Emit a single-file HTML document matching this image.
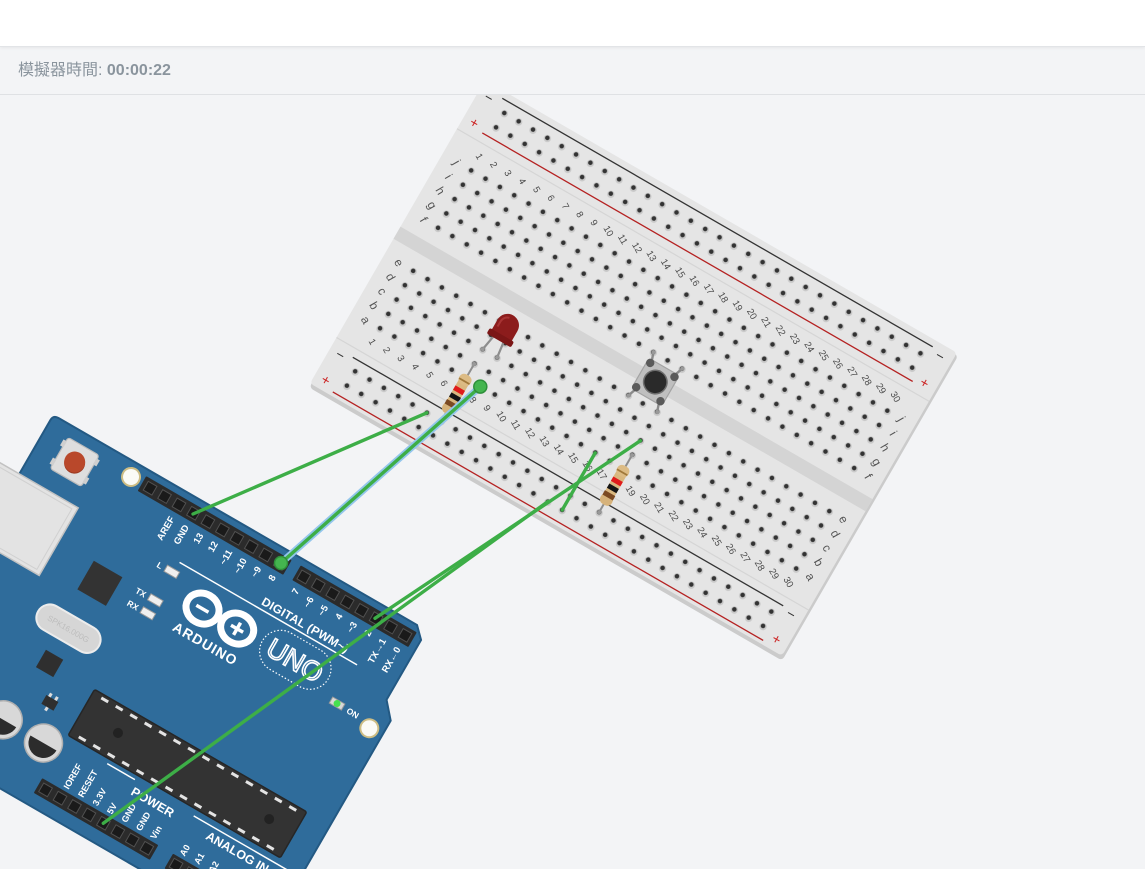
<!DOCTYPE html>
<html><head><meta charset="utf-8">
<style>
html,body{margin:0;padding:0;width:1145px;height:869px;overflow:hidden;background:#f3f4f6;font-family:"Liberation Sans","Noto Sans CJK TC",sans-serif;}
#wrap{position:relative;width:1145px;height:869px;overflow:hidden}
#top{position:absolute;left:0;top:0;width:1145px;height:46px;background:#fff;border-bottom:1px solid #e2e4e7;box-shadow:0 1px 3px rgba(0,0,0,0.06);z-index:3}
#bar{position:absolute;left:0;top:47px;width:1145px;height:47px;background:#f3f4f6;border-bottom:1px solid #dfe1e4;z-index:2}
#bar span{position:absolute;left:18px;top:13px;font-size:16px;color:#8a949d;line-height:22px;white-space:nowrap}
#bar b{font-weight:bold}
svg{position:absolute;left:0;top:0;z-index:1;display:block;overflow:hidden}
.n text{font-family:"Liberation Sans",sans-serif;font-size:9.5px;fill:#4a4a4a;text-anchor:middle}
.l text{font-family:"Liberation Sans",sans-serif;font-size:12px;fill:#555;text-anchor:middle}
.w text{font-family:"Liberation Sans",sans-serif;fill:#fff;font-weight:bold}
</style></head>
<body>
<div id="wrap">
<div id="top"></div>
<div id="bar"><span>模擬器時間: <b>00:00:22</b></span></div>
<svg width="1145" height="869" viewBox="0 0 1145 869">
<defs>
<pattern id="h" patternUnits="userSpaceOnUse" x="24.815" y="8.435" width="16.57" height="16.57">
<circle cx="8.6" cy="8.8" r="3.7" fill="#c9c9c9"/>
<circle cx="8.285" cy="8.285" r="2.3" fill="#333"/>
</pattern>
<clipPath id="scr"><rect x="0" y="0" width="1145" height="869"/></clipPath>
</defs>
<g clip-path="url(#scr)">
<!-- BREADBOARD -->
<g transform="translate(484,82) rotate(30)">
<rect x="1.5" y="0" width="546" height="352" rx="4" fill="#cbcbcb"/>
<rect x="0" y="-2" width="545" height="350" rx="4" fill="#e5e5e5"/>
<line x1="0" y1="54" x2="545" y2="54" stroke="#d5d5d5" stroke-width="1.2"/>
<line x1="0" y1="295" x2="545" y2="295" stroke="#d5d5d5" stroke-width="1.2"/>
<rect x="0" y="167" width="545" height="14" fill="#d4d4d4"/>
<rect x="24.815" y="8.435" width="497.1" height="33.14" fill="url(#h)"/>
<rect x="24.815" y="74.715" width="497.1" height="82.85" fill="url(#h)"/>
<rect x="24.815" y="190.705" width="497.1" height="82.85" fill="url(#h)"/>
<rect x="24.815" y="306.695" width="497.1" height="33.14" fill="url(#h)"/>
<line x1="24" y1="5" x2="521" y2="5" stroke="#333" stroke-width="1.3"/>
<line x1="24" y1="45" x2="521" y2="45" stroke="#b52222" stroke-width="1.3"/>
<line x1="24" y1="304" x2="521" y2="304" stroke="#333" stroke-width="1.3"/>
<line x1="24" y1="344" x2="521" y2="344" stroke="#b52222" stroke-width="1.3"/>
<g font-family="Liberation Sans, sans-serif" font-size="14" text-anchor="middle">
<text x="12" y="16" fill="#333">−</text>
<text x="12" y="45" fill="#c22">+</text>
<text x="12" y="313" fill="#333">−</text>
<text x="12" y="342" fill="#c22">+</text>
<text x="532" y="14" fill="#333">−</text>
<text x="532" y="45" fill="#c22">+</text>
<text x="532" y="312" fill="#333">−</text>
<text x="532" y="341" fill="#c22">+</text>
</g>
<g class="n">
<text x="33.1" y="70" transform="rotate(30 33.1 67)">1</text>
<text x="49.67" y="70" transform="rotate(30 49.67 67)">2</text>
<text x="66.24" y="70" transform="rotate(30 66.24 67)">3</text>
<text x="82.81" y="70" transform="rotate(30 82.81 67)">4</text>
<text x="99.38" y="70" transform="rotate(30 99.38 67)">5</text>
<text x="115.95" y="70" transform="rotate(30 115.95 67)">6</text>
<text x="132.52" y="70" transform="rotate(30 132.52 67)">7</text>
<text x="149.09" y="70" transform="rotate(30 149.09 67)">8</text>
<text x="165.66" y="70" transform="rotate(30 165.66 67)">9</text>
<text x="182.23" y="70" transform="rotate(30 182.23 67)">10</text>
<text x="198.8" y="70" transform="rotate(30 198.8 67)">11</text>
<text x="215.37" y="70" transform="rotate(30 215.37 67)">12</text>
<text x="231.94" y="70" transform="rotate(30 231.94 67)">13</text>
<text x="248.51" y="70" transform="rotate(30 248.51 67)">14</text>
<text x="265.08" y="70" transform="rotate(30 265.08 67)">15</text>
<text x="281.65" y="70" transform="rotate(30 281.65 67)">16</text>
<text x="298.22" y="70" transform="rotate(30 298.22 67)">17</text>
<text x="314.79" y="70" transform="rotate(30 314.79 67)">18</text>
<text x="331.36" y="70" transform="rotate(30 331.36 67)">19</text>
<text x="347.93" y="70" transform="rotate(30 347.93 67)">20</text>
<text x="364.5" y="70" transform="rotate(30 364.5 67)">21</text>
<text x="381.07" y="70" transform="rotate(30 381.07 67)">22</text>
<text x="397.64" y="70" transform="rotate(30 397.64 67)">23</text>
<text x="414.21" y="70" transform="rotate(30 414.21 67)">24</text>
<text x="430.78" y="70" transform="rotate(30 430.78 67)">25</text>
<text x="447.35" y="70" transform="rotate(30 447.35 67)">26</text>
<text x="463.92" y="70" transform="rotate(30 463.92 67)">27</text>
<text x="480.49" y="70" transform="rotate(30 480.49 67)">28</text>
<text x="497.06" y="70" transform="rotate(30 497.06 67)">29</text>
<text x="513.63" y="70" transform="rotate(30 513.63 67)">30</text>
<text x="33.1" y="284" transform="rotate(30 33.1 281)">1</text>
<text x="49.67" y="284" transform="rotate(30 49.67 281)">2</text>
<text x="66.24" y="284" transform="rotate(30 66.24 281)">3</text>
<text x="82.81" y="284" transform="rotate(30 82.81 281)">4</text>
<text x="99.38" y="284" transform="rotate(30 99.38 281)">5</text>
<text x="115.95" y="284" transform="rotate(30 115.95 281)">6</text>
<text x="132.52" y="284" transform="rotate(30 132.52 281)">7</text>
<text x="149.09" y="284" transform="rotate(30 149.09 281)">8</text>
<text x="165.66" y="284" transform="rotate(30 165.66 281)">9</text>
<text x="182.23" y="284" transform="rotate(30 182.23 281)">10</text>
<text x="198.8" y="284" transform="rotate(30 198.8 281)">11</text>
<text x="215.37" y="284" transform="rotate(30 215.37 281)">12</text>
<text x="231.94" y="284" transform="rotate(30 231.94 281)">13</text>
<text x="248.51" y="284" transform="rotate(30 248.51 281)">14</text>
<text x="265.08" y="284" transform="rotate(30 265.08 281)">15</text>
<text x="281.65" y="284" transform="rotate(30 281.65 281)">16</text>
<text x="298.22" y="284" transform="rotate(30 298.22 281)">17</text>
<text x="314.79" y="284" transform="rotate(30 314.79 281)">18</text>
<text x="331.36" y="284" transform="rotate(30 331.36 281)">19</text>
<text x="347.93" y="284" transform="rotate(30 347.93 281)">20</text>
<text x="364.5" y="284" transform="rotate(30 364.5 281)">21</text>
<text x="381.07" y="284" transform="rotate(30 381.07 281)">22</text>
<text x="397.64" y="284" transform="rotate(30 397.64 281)">23</text>
<text x="414.21" y="284" transform="rotate(30 414.21 281)">24</text>
<text x="430.78" y="284" transform="rotate(30 430.78 281)">25</text>
<text x="447.35" y="284" transform="rotate(30 447.35 281)">26</text>
<text x="463.92" y="284" transform="rotate(30 463.92 281)">27</text>
<text x="480.49" y="284" transform="rotate(30 480.49 281)">28</text>
<text x="497.06" y="284" transform="rotate(30 497.06 281)">29</text>
<text x="513.63" y="284" transform="rotate(30 513.63 281)">30</text>
</g>
<g class="l">
<text x="16.5" y="87" transform="rotate(30 16.5 83)">j</text>
<text x="16.5" y="103.6" transform="rotate(30 16.5 99.6)">i</text>
<text x="16.5" y="120.1" transform="rotate(30 16.5 116.1)">h</text>
<text x="16.5" y="136.7" transform="rotate(30 16.5 132.7)">g</text>
<text x="16.5" y="153.3" transform="rotate(30 16.5 149.3)">f</text>
<text x="16.5" y="203" transform="rotate(30 16.5 199)">e</text>
<text x="16.5" y="219.6" transform="rotate(30 16.5 215.6)">d</text>
<text x="16.5" y="236.1" transform="rotate(30 16.5 232.1)">c</text>
<text x="16.5" y="252.7" transform="rotate(30 16.5 248.7)">b</text>
<text x="16.5" y="269.3" transform="rotate(30 16.5 265.3)">a</text>
<text x="530" y="87" transform="rotate(30 530 83)">j</text>
<text x="530" y="103.6" transform="rotate(30 530 99.6)">i</text>
<text x="530" y="120.1" transform="rotate(30 530 116.1)">h</text>
<text x="530" y="136.7" transform="rotate(30 530 132.7)">g</text>
<text x="530" y="153.3" transform="rotate(30 530 149.3)">f</text>
<text x="530" y="203" transform="rotate(30 530 199)">e</text>
<text x="530" y="219.6" transform="rotate(30 530 215.6)">d</text>
<text x="530" y="236.1" transform="rotate(30 530 232.1)">c</text>
<text x="530" y="252.7" transform="rotate(30 530 248.7)">b</text>
<text x="530" y="269.3" transform="rotate(30 530 265.3)">a</text>
</g>

<!-- LED -->
<g stroke="#8d8d8d" stroke-width="2.2" stroke-linecap="round">
<line x1="135.5" y1="215" x2="132.5" y2="232.1"/>
<line x1="147" y1="215" x2="149.1" y2="232.1"/>
</g>
<circle cx="132.5" cy="232.1" r="2" fill="#9a9a9a"/>
<circle cx="149.1" cy="232.1" r="2" fill="#9a9a9a"/>
<path d="M130.5,213 L130.5,199 A11.5,11.5 0 0 1 153.5,199 L153.5,213 Z" fill="#8c1c1c"/>
<path d="M134,205 L134,199 A8,8 0 0 1 140,191.5" fill="none" stroke="#a83434" stroke-width="2"/>
<rect x="128" y="210" width="28" height="6.5" rx="2" fill="#7b1616"/>

<!-- Resistor 1 (col 7) -->
<g>
<line x1="132.5" y1="249" x2="132.5" y2="315" stroke="#8d8d8d" stroke-width="2"/>
<circle cx="132.5" cy="249" r="2" fill="#999"/>
<circle cx="132.5" cy="315" r="2" fill="#999"/>
<rect x="127" y="262" width="11" height="44" rx="5" fill="#d9b77f"/>
<rect x="126" y="262" width="13" height="11" rx="5" fill="#dcbb84"/>
<rect x="126" y="295" width="13" height="11" rx="5" fill="#d6b27a"/>
<rect x="126.5" y="268" width="12" height="1.8" fill="#a0783a"/>
<rect x="127" y="277" width="11" height="5" fill="#e01b1b"/>
<rect x="127" y="285" width="11" height="5" fill="#151515"/>
<rect x="126.5" y="293" width="12" height="5" fill="#7b4a22"/>
</g>
<!-- Resistor 2 (col 18) -->
<g>
<line x1="314.8" y1="249" x2="314.8" y2="315" stroke="#8d8d8d" stroke-width="2"/>
<circle cx="314.8" cy="249" r="2" fill="#999"/>
<circle cx="314.8" cy="315" r="2" fill="#999"/>
<rect x="309.3" y="262" width="11" height="44" rx="5" fill="#d9b77f"/>
<rect x="308.3" y="262" width="13" height="11" rx="5" fill="#dcbb84"/>
<rect x="308.3" y="295" width="13" height="11" rx="5" fill="#d6b27a"/>
<rect x="308.8" y="268" width="12" height="1.8" fill="#a0783a"/>
<rect x="309.3" y="277" width="11" height="5" fill="#e01b1b"/>
<rect x="309.3" y="285" width="11" height="5" fill="#151515"/>
<rect x="308.8" y="293" width="12" height="5" fill="#7b4a22"/>
</g>

<!-- Pushbutton -->
<g transform="translate(298.4,174.2)">
<g stroke="#8a8a8a" stroke-width="2.4" stroke-linecap="round">
<line x1="-12" y1="-12" x2="-16.6" y2="-25"/>
<line x1="12" y1="-12" x2="16.6" y2="-25"/>
<line x1="-12" y1="12" x2="-16.6" y2="25"/>
<line x1="12" y1="12" x2="16.6" y2="25"/>
</g>
<circle cx="-16.6" cy="-25" r="2" fill="#999"/>
<circle cx="16.6" cy="-25" r="2" fill="#999"/>
<circle cx="-16.6" cy="25" r="2" fill="#999"/>
<circle cx="16.6" cy="25" r="2" fill="#999"/>
<rect x="-17.5" y="-17.5" width="35" height="35" rx="3" fill="#bfbfbf" stroke="#a3a3a3" stroke-width="1.2"/>
<circle cx="-14" cy="-14" r="4.2" fill="#5a5a5a"/>
<circle cx="14" cy="-14" r="4.2" fill="#5a5a5a"/>
<circle cx="-14" cy="14" r="4.2" fill="#5a5a5a"/>
<circle cx="14" cy="14" r="4.2" fill="#5a5a5a"/>
<circle cx="0" cy="0" r="12.5" fill="#6e6e6e"/>
<circle cx="0" cy="0" r="11" fill="#2a2a2a"/>
</g>
</g>

<!-- ARDUINO -->
<g transform="translate(53.3,415) rotate(30)">
<path d="M0,6 Q0,0 6,0 L420,0 L431,11 L431,80 L445,96 L445,350 L0,350 Z" fill="#2f6c9b" stroke="#235983" stroke-width="2"/>
<!-- USB -->
<rect x="-55" y="68" width="123" height="78" fill="#e3e3e3" stroke="#c2c2c2" stroke-width="1.5"/>
<rect x="-55" y="72" width="118" height="70" fill="none" stroke="#d0d0d0" stroke-width="1"/>
<!-- reset button -->
<g transform="translate(42,30)">
<rect x="-18" y="-18" width="36" height="36" rx="3" fill="#dedede" stroke="#bcbcbc" stroke-width="1.2"/>
<rect x="-21" y="-14" width="4" height="7" fill="#cfcfcf"/>
<rect x="17" y="-14" width="4" height="7" fill="#cfcfcf"/>
<rect x="-21" y="7" width="4" height="7" fill="#cfcfcf"/>
<rect x="17" y="7" width="4" height="7" fill="#cfcfcf"/>
<circle cx="0.5" cy="1" r="10.5" fill="#9b3a22"/>
<circle cx="0" cy="0" r="10.5" fill="#b9482b"/>
</g>
<!-- mount holes -->
<circle cx="98.3" cy="14.8" r="10" fill="#cdbd84"/>
<circle cx="98.3" cy="14.8" r="8" fill="#fbfbf6"/>
<circle cx="430.3" cy="113.3" r="10" fill="#cdbd84"/>
<circle cx="430.3" cy="113.3" r="8" fill="#fbfbf6"/>
<!-- headers -->
<rect x="111" y="6.5" width="168" height="17" rx="1" fill="#2b2b2b"/>
<rect x="289.5" y="6.5" width="134" height="17" rx="1" fill="#2b2b2b"/>
<rect x="172" y="320" width="134" height="17" rx="1" fill="#2b2b2b"/>
<rect x="323" y="320" width="100" height="17" rx="1" fill="#2b2b2b"/>
<g fill="#1a1a1a" stroke="#505050" stroke-width="1">
<rect x="115.4" y="10" width="10" height="10"/><rect x="132.1" y="10" width="10" height="10"/><rect x="148.8" y="10" width="10" height="10"/><rect x="165.5" y="10" width="10" height="10"/><rect x="182.2" y="10" width="10" height="10"/><rect x="198.9" y="10" width="10" height="10"/><rect x="215.6" y="10" width="10" height="10"/><rect x="232.3" y="10" width="10" height="10"/><rect x="249" y="10" width="10" height="10"/><rect x="265.7" y="10" width="10" height="10"/>
<rect x="292.9" y="10" width="10" height="10"/><rect x="309.6" y="10" width="10" height="10"/><rect x="326.3" y="10" width="10" height="10"/><rect x="343" y="10" width="10" height="10"/><rect x="359.7" y="10" width="10" height="10"/><rect x="376.4" y="10" width="10" height="10"/><rect x="393.1" y="10" width="10" height="10"/><rect x="409.8" y="10" width="10" height="10"/>
<rect x="175.7" y="323.5" width="10" height="10"/><rect x="192.4" y="323.5" width="10" height="10"/><rect x="209.1" y="323.5" width="10" height="10"/><rect x="225.8" y="323.5" width="10" height="10"/><rect x="242.5" y="323.5" width="10" height="10"/><rect x="259.2" y="323.5" width="10" height="10"/><rect x="275.9" y="323.5" width="10" height="10"/><rect x="292.6" y="323.5" width="10" height="10"/>
<rect x="326.4" y="323.5" width="10" height="10"/><rect x="343.1" y="323.5" width="10" height="10"/><rect x="359.8" y="323.5" width="10" height="10"/>
</g>
<!-- chips -->
<rect x="108" y="106" width="33" height="33" fill="#333"/>
<rect x="85" y="164" width="70" height="27" rx="13.5" fill="#d6d6d6" stroke="#ececec" stroke-width="2"/>
<text x="120" y="180.5" font-family="Liberation Sans, sans-serif" font-size="8" fill="#bdbdbd" text-anchor="middle">SPK16.000G</text>
<rect x="111" y="207" width="20" height="20" fill="#2f2f2f"/>
<rect x="134" y="246" width="14" height="10" fill="#2f2f2f"/>
<rect x="136" y="242" width="3" height="4" fill="#ddd"/><rect x="143" y="242" width="3" height="4" fill="#ddd"/><rect x="139.5" y="256" width="3" height="4" fill="#ddd"/>
<!-- capacitors -->
<circle cx="109" cy="289" r="19" fill="#d8d8d8" stroke="#b0b0b0" stroke-width="1.5"/>
<path d="M94,289 A15,15 0 0 0 124,289 Z" fill="#2c2c2c"/>
<circle cx="155.5" cy="289" r="19" fill="#d8d8d8" stroke="#b0b0b0" stroke-width="1.5"/>
<path d="M140.5,289 A15,15 0 0 0 170.5,289 Z" fill="#2c2c2c"/>
<!-- DIP -->
<rect x="173" y="217" width="245" height="53" rx="2" fill="#333" stroke="#262626" stroke-width="1.5"/>
<g fill="#e4e4e4">
<rect x="183" y="219.5" width="8" height="3"/><rect x="199.7" y="219.5" width="8" height="3"/><rect x="216.4" y="219.5" width="8" height="3"/><rect x="233.1" y="219.5" width="8" height="3"/><rect x="249.8" y="219.5" width="8" height="3"/><rect x="266.5" y="219.5" width="8" height="3"/><rect x="283.2" y="219.5" width="8" height="3"/><rect x="299.9" y="219.5" width="8" height="3"/><rect x="316.6" y="219.5" width="8" height="3"/><rect x="333.3" y="219.5" width="8" height="3"/><rect x="350" y="219.5" width="8" height="3"/><rect x="366.7" y="219.5" width="8" height="3"/><rect x="383.4" y="219.5" width="8" height="3"/><rect x="400.1" y="219.5" width="8" height="3"/>
<rect x="183" y="264.5" width="8" height="3"/><rect x="199.7" y="264.5" width="8" height="3"/><rect x="216.4" y="264.5" width="8" height="3"/><rect x="233.1" y="264.5" width="8" height="3"/><rect x="249.8" y="264.5" width="8" height="3"/><rect x="266.5" y="264.5" width="8" height="3"/><rect x="283.2" y="264.5" width="8" height="3"/><rect x="299.9" y="264.5" width="8" height="3"/><rect x="316.6" y="264.5" width="8" height="3"/><rect x="333.3" y="264.5" width="8" height="3"/><rect x="350" y="264.5" width="8" height="3"/><rect x="366.7" y="264.5" width="8" height="3"/><rect x="383.4" y="264.5" width="8" height="3"/><rect x="400.1" y="264.5" width="8" height="3"/>
</g>
<circle cx="215" cy="243" r="5" fill="#222"/>
<circle cx="389" cy="242" r="5" fill="#222"/>
<!-- small LEDs -->
<rect x="174" y="73" width="14" height="7" fill="#efefef" stroke="#9a9a9a" stroke-width="1"/>
<rect x="174" y="106" width="14" height="7" fill="#efefef" stroke="#9a9a9a" stroke-width="1"/>
<rect x="174" y="121" width="14" height="7" fill="#efefef" stroke="#9a9a9a" stroke-width="1"/>
<rect x="383" y="104.5" width="14" height="7" fill="#d8d8d8" stroke="#9a9a9a" stroke-width="1"/>
<circle cx="390" cy="108" r="3.5" fill="#46e04f"/>
<!-- logo -->
<ellipse cx="226" cy="93" rx="17" ry="15" fill="none" stroke="#fff" stroke-width="7"/>
<ellipse cx="266" cy="93" rx="17" ry="15" fill="none" stroke="#fff" stroke-width="7"/>
<rect x="219" y="91.5" width="14" height="3.5" fill="#fff"/>
<rect x="259" y="91.5" width="14" height="3.5" fill="#fff"/>
<rect x="264.3" y="86.3" width="3.5" height="14" fill="#fff"/>
<rect x="294" y="70" width="76" height="42" rx="21" fill="none" stroke="#fff" stroke-width="1.2" stroke-dasharray="1.5 2"/>
<text x="332" y="101" font-family="Liberation Sans, sans-serif" font-size="27" text-anchor="middle" fill="#2f6c9b" stroke="#fff" stroke-width="1.6">UNO</text>
<g class="w">
<text x="246" y="127" font-size="14" text-anchor="middle" letter-spacing="1">ARDUINO</text>
<text x="274" y="60" font-size="12" letter-spacing="0.3">DIGITAL (PWM~)</text>
<text x="256" y="290" font-size="12.5">POWER</text>
<text x="343" y="291" font-size="12.5">ANALOG IN</text>
<text x="402" y="111.5" font-size="8.5">ON</text>
<text x="170" y="80" font-size="8.5" text-anchor="end">L</text>
<text x="170" y="113" font-size="8.5" text-anchor="end">TX</text>
<text x="170" y="128" font-size="8.5" text-anchor="end">RX</text>
<g font-size="9.5" text-anchor="end">
<text transform="translate(157.1,29) rotate(-90)">AREF</text>
<text transform="translate(173.8,29) rotate(-90)">GND</text>
<text transform="translate(190.5,29) rotate(-90)">13</text>
<text transform="translate(207.2,29) rotate(-90)">12</text>
<text transform="translate(223.9,29) rotate(-90)">~11</text>
<text transform="translate(240.6,29) rotate(-90)">~10</text>
<text transform="translate(257.3,29) rotate(-90)">~9</text>
<text transform="translate(274,29) rotate(-90)">8</text>
<text transform="translate(301.2,29) rotate(-90)">7</text>
<text transform="translate(317.9,29) rotate(-90)">~6</text>
<text transform="translate(334.6,29) rotate(-90)">~5</text>
<text transform="translate(351.3,29) rotate(-90)">4</text>
<text transform="translate(368,29) rotate(-90)">~3</text>
<text transform="translate(384.7,29) rotate(-90)">2</text>
<text transform="translate(401.4,29) rotate(-90)">TX→1</text>
<text transform="translate(418.1,29) rotate(-90)">RX←0</text>
</g>
<g font-size="9">
<text transform="translate(200.6,317) rotate(-90)">IOREF</text>
<text transform="translate(217.3,317) rotate(-90)">RESET</text>
<text transform="translate(234,317) rotate(-90)">3.3V</text>
<text transform="translate(250.7,317) rotate(-90)">5V</text>
<text transform="translate(267.4,317) rotate(-90)">GND</text>
<text transform="translate(284.1,317) rotate(-90)">GND</text>
<text transform="translate(300.8,317) rotate(-90)">Vin</text>
<text transform="translate(334.6,317) rotate(-90)">A0</text>
<text transform="translate(351.3,317) rotate(-90)">A1</text>
<text transform="translate(368,317) rotate(-90)">A2</text>
</g>
</g>
<line x1="183" y1="64.5" x2="388" y2="64.5" stroke="#fff" stroke-width="1.5"/>
<line x1="221" y1="275" x2="253" y2="275" stroke="#fff" stroke-width="1.5"/>
<line x1="322" y1="277" x2="430" y2="277" stroke="#fff" stroke-width="1.5"/>
</g>

<!-- WIRES -->
<g stroke-linecap="round" fill="none">
<line x1="193" y1="514" x2="426.9" y2="412.8" stroke="#3dae47" stroke-width="3.4"/>
<line x1="281" y1="563" x2="480.3" y2="386.6" stroke="#93c6ec" stroke-width="7"/>
<line x1="281" y1="563" x2="480.3" y2="386.6" stroke="#3dae47" stroke-width="3.4"/>
<line x1="375" y1="618.3" x2="640.4" y2="440.7" stroke="#3dae47" stroke-width="3.4"/>
<line x1="103.3" y1="823.3" x2="547.8" y2="501.6" stroke="#3dae47" stroke-width="3.4"/>
<line x1="562.2" y1="510" x2="595.2" y2="452.9" stroke="#3dae47" stroke-width="3.4"/>
</g>
<circle cx="281" cy="563" r="6.5" fill="#44b54f" stroke="#2e8f3a" stroke-width="1.5"/>
<circle cx="480.3" cy="386.6" r="6.5" fill="#44b54f" stroke="#2e8f3a" stroke-width="1.5"/>
</g>
</svg>
</div>
</body></html>
